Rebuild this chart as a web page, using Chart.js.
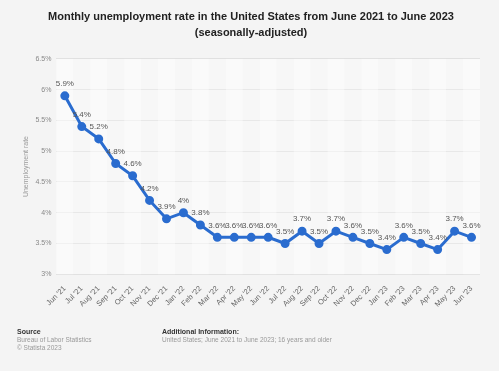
<!DOCTYPE html>
<html>
<head>
<meta charset="utf-8">
<script src="https://cdn.jsdelivr.net/npm/chart.js@4"></script>
<style>
  html, body { margin: 0; padding: 0; background: #f4f4f4; }
  #wrap { position: relative; width: 499px; height: 371px; font-family: Arial, "Liberation Sans", sans-serif; }
  canvas { position: absolute; left: 0; top: 0; }
  .foot { position: absolute; font-size: 6.5px; color: #999; line-height: 8px; }
  .foot b { color: #333; font-weight: bold; font-size: 7px; }
</style>
</head>
<body>
<div id="wrap">
  <canvas id="chart" width="499" height="371"></canvas>
  <div class="foot" style="left:17px; top:328px;"><b>Source</b><br>Bureau of Labor Statistics<br>© Statista 2023</div>
  <div class="foot" style="left:162px; top:328px;"><b>Additional Information:</b><br>United States; June 2021 to June 2023; 16 years and older</div>
</div>
<script>
const months = ["Jun '21", "Jul '21", "Aug '21", "Sep '21", "Oct '21", "Nov '21", "Dec '21",
  "Jan '22", "Feb '22", "Mar '22", "Apr '22", "May '22", "Jun '22", "Jul '22", "Aug '22",
  "Sep '22", "Oct '22", "Nov '22", "Dec '22", "Jan '23", "Feb '23", "Mar '23", "Apr '23",
  "May '23", "Jun '23"];
const rates = [5.9, 5.4, 5.2, 4.8, 4.6, 4.2, 3.9, 4.0, 3.8, 3.6, 3.6, 3.6, 3.6, 3.5, 3.7,
  3.5, 3.7, 3.6, 3.5, 3.4, 3.6, 3.5, 3.4, 3.7, 3.6];

// alternating column shading behind the line
const stripes = {
  id: 'stripes',
  beforeDatasetsDraw(chart) {
    const { ctx, chartArea, scales } = chart;
    const x = scales.x;
    ctx.save();
    for (let i = 0; i < months.length; i++) {
      const c = x.getPixelForValue(i);
      const half = (x.getPixelForValue(1) - x.getPixelForValue(0)) / 2;
      ctx.fillStyle = i % 2 === 0 ? 'rgba(255,255,255,0.55)' : 'rgba(255,255,255,0.25)';
      ctx.fillRect(c - half, chartArea.top, half * 2, chartArea.bottom - chartArea.top);
    }
    ctx.restore();
  }
};

// value labels above each point
const valueLabels = {
  id: 'valueLabels',
  afterDatasetsDraw(chart) {
    const { ctx } = chart;
    const meta = chart.getDatasetMeta(0);
    ctx.save();
    ctx.font = '8px Arial, "Liberation Sans", sans-serif';
    ctx.fillStyle = '#555';
    ctx.textAlign = 'center';
    ctx.textBaseline = 'bottom';
    meta.data.forEach((pt, i) => {
      ctx.fillText(rates[i] + '%', pt.x, pt.y - 8);
    });
    ctx.restore();
  }
};

new Chart(document.getElementById('chart'), {
  type: 'line',
  data: {
    labels: months,
    datasets: [{
      data: rates,
      borderColor: '#2a6ccf',
      backgroundColor: '#2a6ccf',
      borderWidth: 3,
      pointRadius: 3,
      pointHoverRadius: 3,
      tension: 0
    }]
  },
  options: {
    responsive: false,
    animation: false,
    layout: { padding: { left: 22, right: 19, top: 0, bottom: 60 } },
    plugins: {
      legend: { display: false },
      tooltip: { enabled: false },
      title: {
        display: true,
        text: ['Monthly unemployment rate in the United States from June 2021 to June 2023', '(seasonally-adjusted)'],
        color: '#222',
        font: { family: 'Arial, "Liberation Sans", sans-serif', size: 11, weight: 'bold', lineHeight: 1.45 },
        padding: { top: 9, bottom: 18 }
      }
    },
    scales: {
      x: {
        offset: true,
        grid: { display: false },
        border: { display: false },
        ticks: {
          maxRotation: 45, minRotation: 45,
          color: '#666',
          font: { family: 'Arial, "Liberation Sans", sans-serif', size: 7.5 },
          autoSkip: false,
          padding: 2
        }
      },
      y: {
        min: 3, max: 6.5,
        border: { display: false },
        grid: { color: '#e0e0e0', drawTicks: false },
        ticks: {
          stepSize: 0.5,
          color: '#888',
          padding: 5,
          font: { family: 'Arial, "Liberation Sans", sans-serif', size: 7 },
          callback: v => v + '%'
        },
        title: {
          display: true,
          text: 'Unemployment rate',
          color: '#999',
          font: { family: 'Arial, "Liberation Sans", sans-serif', size: 7 },
          padding: { top: 0, bottom: 0 }
        }
      }
    }
  },
  plugins: [stripes, valueLabels]
});
</script>
</body>
</html>
